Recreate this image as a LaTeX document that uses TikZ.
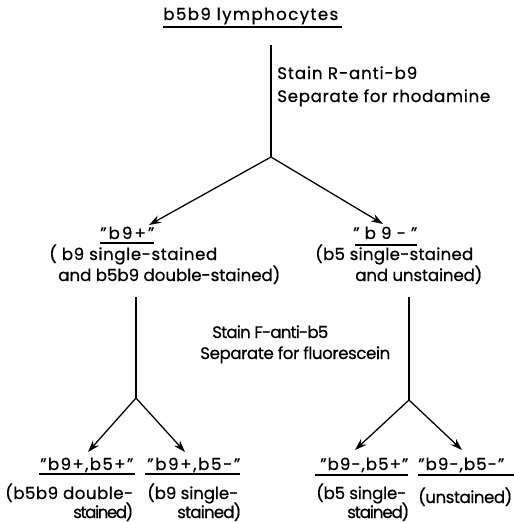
\documentclass[tikz,border=0pt]{standalone}
\usepackage{fontspec}
\setmainfont{Poppins}[FakeBold=0.6]
\usetikzlibrary{arrows.meta}
\newlength\natwd
\newlength\lswd
\newcommand\qq{\char"22\relax}
% #1 = target width in px, #2 = text
\newcommand\fitw[2]{%
  \setbox0\hbox{#2}\natwd=\wd0
  \setbox2\hbox{\addfontfeatures{LetterSpace=10}#2}\lswd=\wd2
  \pgfmathsetmacro\myls{10*(#1*0.75-\the\natwd)/(\the\lswd-\the\natwd)}%
  \addfontfeatures{LetterSpace=\myls}#2}
\begin{document}
\begin{tikzpicture}[x=0.75pt,y=-0.75pt,
  font=\fontsize{12.5}{14}\selectfont,
  lbl/.style={inner sep=0pt, anchor=base west},
  arr/.style={-{Stealth[length=9pt,width=6pt]}, line width=0.95pt},
  ln/.style={line width=0.95pt},
  ul/.style={line width=0.95pt}]
\useasboundingbox (0,0) rectangle (514,522);
% title
\node[lbl] (title) at (163,20) {\fitw{175}{b5b9 lymphocytes}};
\draw[ul] (163,27) -- (342,27);
% first split
\coordinate (top1) at (271,45);
\coordinate (j1) at (271,157);
\node[lbl] (stainR) at (277,79) {\fitw{140}{Stain R-anti-b9}};
\node[lbl] (sepR) at (277,102) {\fitw{213}{Separate for rhodamine}};
\draw[ln] (top1) -- (j1);
\coordinate (tipL) at (149,225);
\coordinate (tipR) at (383,224);
\draw[arr] (j1) -- (tipL);
\draw[arr] (j1) -- (tipR);
% b9+
\node[lbl] (b9p) at (100,239) {\fitw{54}{\qq b9+\qq}};
\draw[ul] (100,243) -- (154,243);
\node[lbl] (b9pa) at (49,260) {\fitw{168}{( b9 single-stained}};
\node[lbl] (b9pb) at (58,281) {\fitw{222}{and b5b9 double-stained)}};
% b9-
\node[lbl] (b9m) at (353,239) {\fitw{64}{\qq b9-\qq}};
\draw[ul] (355,245) -- (417,245);
\node[lbl] (b9ma) at (315,260) {\fitw{158}{(b5 single-stained}};
\node[lbl] (b9mb) at (355,281) {\fitw{127}{and unstained)}};
% second stain
\node[lbl] (stainF) at (212,338) {\fitw{116}{Stain F-anti-b5}};
\node[lbl] (sepF) at (200,359) {\fitw{190}{Separate for fluorescein}};
\coordinate (topL) at (136,297);
\coordinate (jL) at (136,398);
\coordinate (topR) at (409,297);
\coordinate (jR) at (409,400);
\draw[ln] (topL) -- (jL);
\draw[ln] (topR) -- (jR);
\coordinate (tLL) at (88,452);
\coordinate (tLR) at (185,452);
\coordinate (tRL) at (355,450);
\coordinate (tRR) at (462,450);
\draw[arr] (jL) -- (tLL);
\draw[arr] (jL) -- (tLR);
\draw[arr] (jR) -- (tRL);
\draw[arr] (jR) -- (tRR);
% bottom labels
\node[lbl] (pp) at (40,470) {\fitw{93}{\qq b9+,b5+\qq}};
\draw[ul] (39,474) -- (135,474);
\node[lbl] (pm) at (147,470) {\fitw{93}{\qq b9+,b5-\qq}};
\draw[ul] (145,474) -- (240,474);
\node[lbl] (ppa) at (5,499) {\fitw{128}{(b5b9 double-}};
\node[lbl] (ppb) at (73,518) {\fitw{60}{stained)}};
\node[lbl] (pma) at (147,499) {\fitw{91}{(b9 single-}};
\node[lbl] (pmb) at (177,518) {\fitw{64}{stained)}};
\node[lbl] (mp) at (320,470) {\fitw{88}{\qq b9-,b5+\qq}};
\draw[ul] (315,475) -- (408,475);
\node[lbl] (mm) at (418,470) {\fitw{86}{\qq b9-,b5-\qq}};
\draw[ul] (418,475) -- (514,475);
\node[lbl] (mpa) at (316,499) {\fitw{90}{(b5 single-}};
\node[lbl] (mpb) at (347,518) {\fitw{62}{stained)}};
\node[lbl] (mma) at (418,503) {\fitw{94}{(unstained)}};
\end{tikzpicture}
\end{document}
